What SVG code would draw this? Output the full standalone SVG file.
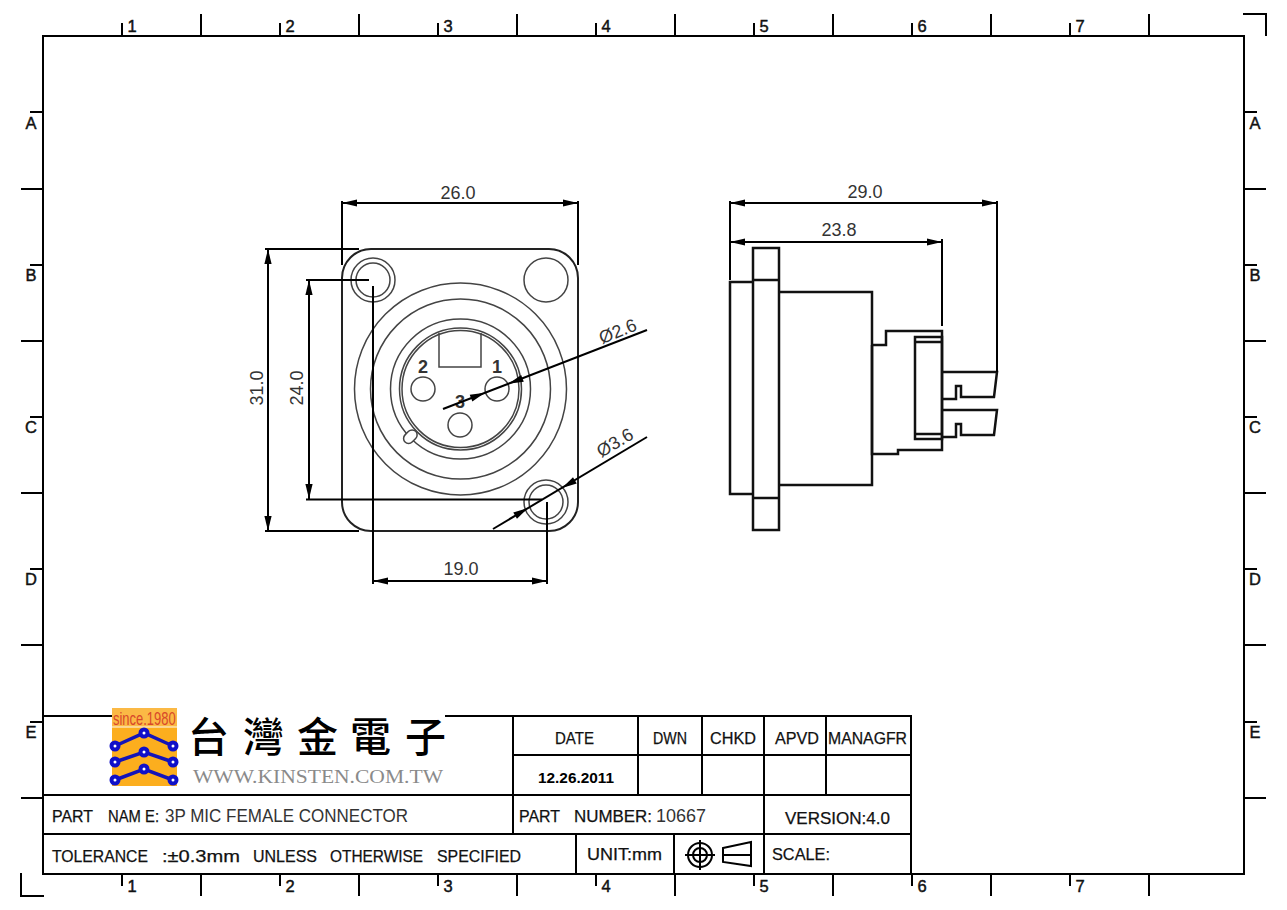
<svg xmlns="http://www.w3.org/2000/svg" width="1287" height="910" viewBox="0 0 1287 910">
<style>
.k{fill:none;stroke:#000;stroke-width:2}
.d{fill:none;stroke:#000;stroke-width:2}
.m{fill:none;stroke:#111;stroke-width:2.5}
.g{fill:none;stroke:#444;stroke-width:1.5}
.g2{fill:none;stroke:#222;stroke-width:2}
.a{fill:#000;stroke:none}
text{font-family:"Liberation Sans",Arial,sans-serif;fill:#000}
.dim{font-size:18px;fill:#333;text-anchor:middle}
.tk{font-size:16.5px;text-anchor:middle;fill:#111;stroke:#111;stroke-width:.45}
.tb{font-size:17px;fill:#111;stroke:#111;stroke-width:.25}
.c{text-anchor:middle}
.lt{font-size:17.5px;fill:#333}
.pin{font-size:18px;font-weight:bold;text-anchor:middle;fill:#333}
</style>
<defs>
<path id="ah" class="a" d="M0 0L-15 -3.6L-15 3.6Z"/>
</defs>
<rect width="1287" height="910" fill="#fff"/>

<g id="frame">
<rect class="k" x="43" y="36" width="1201" height="838"/>
<path class="k" d="M122 23V36M201 14V36M280 23V36M359 14V36M438 23V36M517 14V36M596 23V36M675 14V36M754 23V36M833 14V36M912 23V36M991 14V36M1070 23V36M1149 14V36"/>
<path class="k" d="M122 874V886M201 874V896M280 874V886M359 874V896M438 874V886M517 874V896M596 874V886M675 874V896M754 874V886M833 874V896M912 874V886M991 874V896M1070 874V886M1149 874V896"/>
<path class="k" d="M30 112H43M21 189H43M30 265H43M21 341H43M30 417H43M21 493H43M30 569H43M21 645H43M30 722H43M21 798H43"/>
<path class="k" d="M1244 112H1257M1244 189H1266M1244 265H1257M1244 341H1266M1244 417H1257M1244 493H1266M1244 569H1257M1244 645H1266M1244 722H1257M1244 798H1266"/>
<path class="k" d="M1243 14H1266V36M21 873V896H44"/>
<text x="132" y="32" class="tk">1</text><text x="290" y="32" class="tk">2</text><text x="448" y="32" class="tk">3</text><text x="606" y="32" class="tk">4</text><text x="764" y="32" class="tk">5</text><text x="922" y="32" class="tk">6</text><text x="1080" y="32" class="tk">7</text>
<text x="132" y="892" class="tk">1</text><text x="290" y="892" class="tk">2</text><text x="448" y="892" class="tk">3</text><text x="606" y="892" class="tk">4</text><text x="764" y="892" class="tk">5</text><text x="922" y="892" class="tk">6</text><text x="1080" y="892" class="tk">7</text>
<text x="31" y="129" class="tk">A</text><text x="31" y="281" class="tk">B</text><text x="31" y="433" class="tk">C</text><text x="31" y="585" class="tk">D</text><text x="31" y="738" class="tk">E</text>
<text x="1255" y="129" class="tk">A</text><text x="1255" y="281" class="tk">B</text><text x="1255" y="433" class="tk">C</text><text x="1255" y="585" class="tk">D</text><text x="1255" y="738" class="tk">E</text>
</g>

<g id="front-view">
<rect class="g2" x="342" y="249" width="236" height="282" rx="29"/>
<circle class="g" cx="373" cy="280" r="22"/><circle class="g" cx="373" cy="280" r="17"/>
<circle class="g" cx="546" cy="280" r="22"/>
<circle class="g" cx="546" cy="502" r="22"/><circle class="g" cx="546" cy="502" r="17"/>
<circle class="g" cx="460.5" cy="389" r="106"/>
<circle class="g" cx="460.5" cy="389" r="90"/>
<circle class="g" cx="460.5" cy="389" r="70"/>
<circle class="g" cx="460.5" cy="389" r="61"/>
<circle class="g" cx="460.5" cy="389" r="58.5"/>
<path class="g" d="M439 333V367H481V333"/>
<rect x="403" y="432" width="15" height="10" rx="5" fill="#fff" stroke="#444" stroke-width="1.500" transform="rotate(-45 410 437)"/>
<circle class="g" cx="423" cy="389" r="12"/>
<circle class="g" cx="497" cy="389" r="12"/>
<circle class="g" cx="460" cy="425" r="12"/>
<text class="pin" x="423" y="373">2</text>
<text class="pin" x="497" y="373">1</text>
<text class="pin" x="460" y="408">3</text>
</g>

<g id="side-view">
<rect class="m" x="753" y="248" width="26" height="282"/>
<path class="m" d="M753 280H779M753 498H779"/>
<path class="m" d="M753 282H730V494H753"/>
<path class="m" d="M779 292H872V485H779"/>
<path class="m" d="M872 345H886V331H942V450H898V454H872V345"/>
<rect class="m" x="915" y="337" width="27" height="102"/>
<path class="m" d="M915 342H942M915 434H942"/>
<path class="m" d="M942 372H997L994 397H961V386H956V399H942"/>
<path class="m" d="M942 410H997L994 435H961V424H956V437H942"/>
</g>

<g id="dimensions">
<path class="d" d="M342 201V265M578 201V265M342 203H578"/>
<use href="#ah" transform="translate(342 203) rotate(180)"/><use href="#ah" transform="translate(578 203)"/>
<path class="d" d="M265 249H359M265 531H359M268 249V531"/>
<use href="#ah" transform="translate(268 249) rotate(-90)"/><use href="#ah" transform="translate(268 531) rotate(90)"/>
<path class="d" d="M306 280H369M306 499.500H542M309 280V499"/>
<use href="#ah" transform="translate(309 280) rotate(-90)"/><use href="#ah" transform="translate(309 499) rotate(90)"/>
<path class="d" d="M373 286V584M547 502V584M373 581H547"/>
<use href="#ah" transform="translate(373 581) rotate(180)"/><use href="#ah" transform="translate(547 581)"/>
<path class="d" d="M443 409L647 330"/>
<use href="#ah" transform="translate(508.500 383.700) rotate(158.800)"/><use href="#ah" transform="translate(485 392.700) rotate(-21.200)"/>
<path class="d" d="M493 529L647 437"/>
<use href="#ah" transform="translate(528 508) rotate(-30.900)"/><use href="#ah" transform="translate(562 488) rotate(149.100)"/>
<path class="d" d="M730 201V280M997 201V372M730 203H997"/>
<use href="#ah" transform="translate(730 203) rotate(180)"/><use href="#ah" transform="translate(997 203)"/>
<path class="d" d="M942 239V326M730 242H942"/>
<use href="#ah" transform="translate(730 242) rotate(180)"/><use href="#ah" transform="translate(942 242)"/>
<text class="dim" x="458" y="199">26.0</text>
<text class="dim" x="461" y="575">19.0</text>
<text class="dim" x="865" y="198">29.0</text>
<text class="dim" x="839" y="236">23.8</text>
<text class="dim" transform="translate(263 388) rotate(-90)">31.0</text>
<text class="dim" transform="translate(303 388) rotate(-90)">24.0</text>
<text class="dim" transform="translate(620 337) rotate(-22)">Ø2.6</text>
<text class="dim" transform="translate(618 448) rotate(-31)">Ø3.6</text>
</g>

<g id="title-block">
<path class="k" d="M43 716H112M445 716H911V874M43 795H911M43 834H911M513 716V834M513 755H911M638 716V795M702 716V795M764 716V874M826 716V795M576 834V874M674 834V874"/>
<text class="tb" x="555" y="744" textLength="39" lengthAdjust="spacingAndGlyphs">DATE</text>
<text class="tb" x="653" y="744" textLength="34" lengthAdjust="spacingAndGlyphs">DWN</text>
<text class="tb" x="710" y="744" textLength="46" lengthAdjust="spacingAndGlyphs">CHKD</text>
<text class="tb" x="775" y="744" textLength="44" lengthAdjust="spacingAndGlyphs">APVD</text>
<text class="tb" x="828" y="744" textLength="79" lengthAdjust="spacingAndGlyphs">MANAGFR</text>
<text x="538" y="783" font-size="14" font-weight="bold" textLength="76" lengthAdjust="spacingAndGlyphs">12.26.2011</text>
<text class="tb" x="52" y="822" textLength="41" lengthAdjust="spacingAndGlyphs">PART</text>
<text class="tb" x="108" y="822" textLength="51" lengthAdjust="spacingAndGlyphs">NAM E:</text>
<text class="lt" x="165" y="822" textLength="243" lengthAdjust="spacingAndGlyphs">3P MIC FEMALE CONNECTOR</text>
<text class="tb" x="519" y="822" textLength="41" lengthAdjust="spacingAndGlyphs">PART</text>
<text class="tb" x="574" y="822" textLength="78" lengthAdjust="spacingAndGlyphs">NUMBER:</text>
<text class="lt" x="656" y="822" textLength="50" lengthAdjust="spacingAndGlyphs">10667</text>
<text class="tb" x="785" y="824" textLength="105" lengthAdjust="spacingAndGlyphs">VERSION:4.0</text>
<text class="tb" x="52" y="862" textLength="96" lengthAdjust="spacingAndGlyphs">TOLERANCE</text>
<text class="tb" x="162" y="862" textLength="78" lengthAdjust="spacingAndGlyphs">:±0.3mm</text>
<text class="tb" x="253" y="862" textLength="64" lengthAdjust="spacingAndGlyphs">UNLESS</text>
<text class="tb" x="330" y="862" textLength="93" lengthAdjust="spacingAndGlyphs">OTHERWISE</text>
<text class="tb" x="437" y="862" textLength="84" lengthAdjust="spacingAndGlyphs">SPECIFIED</text>
<text class="tb" x="587" y="860" textLength="75" lengthAdjust="spacingAndGlyphs">UNIT:mm</text>
<text class="tb" x="772" y="860" textLength="58" lengthAdjust="spacingAndGlyphs">SCALE:</text>
<g id="projection-symbol">
<circle class="d" cx="700" cy="855" r="12"/><circle class="d" cx="700" cy="855" r="7"/>
<path class="d" d="M700 840V870M685 855H715"/>
<path class="d" d="M723 848L751 842V866L723 862ZM722 855H752"/>
</g>
</g>

<g id="logo">
<rect x="112" y="708" width="65" height="78" fill="#fcae1e"/>
<rect x="112" y="708" width="65" height="19" fill="#fbb945"/>
<path d="M112 727H177" stroke="#fde2b0" stroke-width="1.500"/>
<text transform="translate(113 725) scale(.72 1)" font-size="18" style="fill:#d8482a">since.1980</text>
<g fill="none" stroke="#1414b8" stroke-width="3.500">
<path d="M115 746L144 733L173 746M115 762L144 752L173 762M115 780L144 769L173 780"/>
</g>
<g fill="#fff" stroke="#1010c8" stroke-width="4">
<circle cx="115" cy="746" r="3.500"/><circle cx="144" cy="733" r="3.500"/><circle cx="173" cy="746" r="3.500"/>
<circle cx="115" cy="762" r="3.500"/><circle cx="144" cy="752" r="3.500"/><circle cx="173" cy="762" r="3.500"/>
<circle cx="115" cy="780" r="3.500"/><circle cx="144" cy="769" r="3.500"/><circle cx="173" cy="780" r="3.500"/>
</g>
<text x="188 243 297 350 405" y="752" font-size="41" style="font-family:'Noto Sans CJK TC','Noto Sans CJK SC',sans-serif;font-weight:500">台灣金電子</text>
<text x="193" y="783" font-size="18" textLength="250" lengthAdjust="spacingAndGlyphs" style="font-family:'Liberation Serif',serif;fill:#8a8a8a">WWW.KINSTEN.COM.TW</text>
</g>
</svg>
